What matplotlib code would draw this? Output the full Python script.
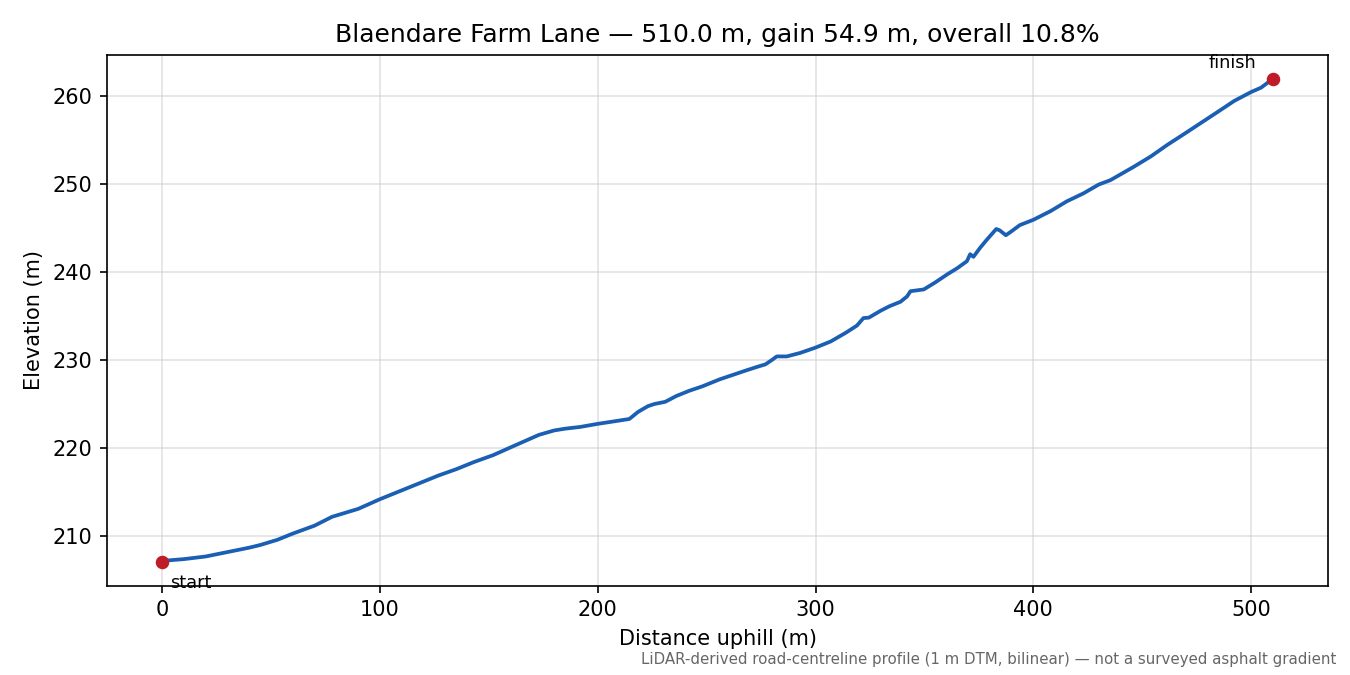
import matplotlib
matplotlib.use("Agg")
import matplotlib.pyplot as plt

# distance (m) and elevation (m)
distance = [0, 10, 20, 30, 40, 45, 53, 60, 70, 78, 90, 100, 110, 119, 127, 135,
            143, 152, 162, 173, 180, 185, 192, 200, 208, 214.5, 218.5, 223,
            226, 231, 236, 242, 248, 256, 262, 268, 273, 277, 280, 282.2,
            286.8, 293, 300, 307, 314, 319, 322, 324.5, 330, 334, 339, 342,
            343.6, 349.7, 355, 360.4, 365, 369.5, 371, 372.5, 375.5, 378.5,
            381, 383, 384.6, 387.4, 390, 393.8, 400, 408, 415.4, 423, 430,
            435.4, 446, 454, 461.5, 469, 477, 485, 492.3, 500, 504.6, 510]
elevation = [207.2, 207.4, 207.7, 208.2, 208.7, 209.0, 209.6, 210.3, 211.2,
             212.2, 213.1, 214.2, 215.2, 216.1, 216.9, 217.6, 218.4, 219.2,
             220.3, 221.5, 222.0, 222.2, 222.4, 222.75, 223.05, 223.3, 224.1,
             224.75, 225.0, 225.25, 225.9, 226.5, 227.0, 227.8, 228.3, 228.8,
             229.2, 229.5, 230.0, 230.4, 230.4, 230.8, 231.4, 232.1, 233.1,
             233.9, 234.75, 234.8, 235.6, 236.1, 236.6, 237.2, 237.8, 238.0,
             238.8, 239.7, 240.4, 241.2, 242.0, 241.7, 242.7, 243.6, 244.3,
             244.86, 244.7, 244.15, 244.6, 245.3, 245.9, 246.9, 248.0, 248.9,
             249.9, 250.4, 251.9, 253.1, 254.4, 255.6, 256.9, 258.2, 259.4,
             260.4, 260.9, 261.9]

title = "Blaendare Farm Lane \u2014 510.0 m, gain 54.9 m, overall 10.8%"
xlabel = "Distance uphill (m)"
ylabel = "Elevation (m)"
footnote = ("LiDAR-derived road-centreline profile (1 m DTM, bilinear) "
            "\u2014 not a surveyed asphalt gradient")

fig = plt.figure(figsize=(9, 4.5), dpi=150)
ax = fig.add_axes([0.079, 0.132, 0.905, 0.787])

ax.plot(distance, elevation, color="#1a5fb4", lw=1.8, zorder=2)
ax.scatter([distance[0], distance[-1]], [207.1, elevation[-1]],
           color="#c01c28", s=30, zorder=3)
ax.annotate("start", (distance[0], 207.1), xytext=(4, -6),
            textcoords="offset points", ha="left", va="top", fontsize=8.5)
ax.annotate("finish", (distance[-1], elevation[-1]), xytext=(-8, 3.5),
            textcoords="offset points", ha="right", va="bottom", fontsize=8.5)

ax.set_title(title, fontsize=12)
ax.set_xlabel(xlabel)
ax.set_ylabel(ylabel)
ax.grid(True, color="#cccccc", alpha=0.55, lw=0.8)
ax.set_axisbelow(True)

fig.text(0.99, 0.012, footnote, ha="right", va="bottom", fontsize=7.2,
         color="#666666")

fig.savefig("out.png", dpi=150)
